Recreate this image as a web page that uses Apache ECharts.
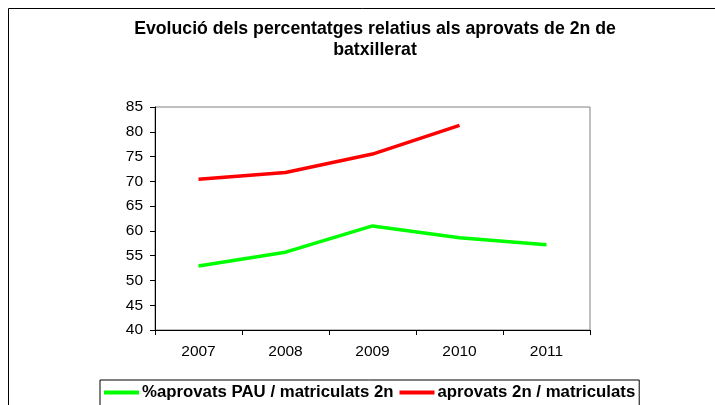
<!DOCTYPE html>
<html>
<head>
<meta charset="utf-8">
<script src="https://cdn.jsdelivr.net/npm/echarts@6/dist/echarts.min.js"></script>
<style>
html,body{margin:0;padding:0;background:#fff;}
#chart{width:715px;height:405px;}
</style>
</head>
<body>
<div id="chart"></div>
<script>
var titleText = "Evolució dels percentatges relatius als aprovats de 2n de\nbatxillerat";
var categories = ["2007", "2008", "2009", "2010", "2011"];
var seriesNames = ["%aprovats PAU / matriculats 2n", "aprovats 2n / matriculats"];
var pauValues = [52.9, 55.7, 61.0, 58.6, 57.2];
var aprovatsValues = [70.4, 71.8, 75.5, 81.3, null];
var yTicks = [40, 45, 50, 55, 60, 65, 70, 75, 80, 85];

var FONT = "'Liberation Sans', Arial, sans-serif";
var chart = echarts.init(document.getElementById('chart'), null, {renderer: 'canvas'});
chart.setOption({
  animation: false,
  backgroundColor: '#ffffff',
  graphic: [{
    type: 'rect', left: 8, top: 8, z: -1,
    shape: {width: 730, height: 420},
    style: {fill: '#ffffff', stroke: '#000000', lineWidth: 1}
  }],
  title: {
    text: titleText,
    left: 370, top: 14, textAlign: 'center',
    textStyle: {fontFamily: FONT, fontWeight: 'bold', fontSize: 17.7, color: '#000', lineHeight: 21}
  },
  grid: {
    left: 155, top: 107, width: 435, height: 223,
    show: true, borderColor: '#808080', borderWidth: 1, backgroundColor: '#ffffff'
  },
  legend: {
    left: 100, top: 380,
    data: seriesNames,
    itemWidth: 35, itemHeight: 4, itemGap: 6,
    icon: 'rect',
    padding: [4, 4, 10, 4],
    borderColor: '#000', borderWidth: 1, backgroundColor: '#fff',
    textStyle: {fontFamily: FONT, fontWeight: 'bold', fontSize: 16.8, color: '#000', padding: [0, 0, 0, -2]}
  },
  xAxis: {
    type: 'category', data: categories, boundaryGap: true,
    axisLine: {show: true, lineStyle: {color: '#000', width: 1}},
    axisTick: {show: true, interval: 0, length: 5, lineStyle: {color: '#000'}},
    axisLabel: {fontFamily: FONT, fontSize: 15.5, color: '#000', margin: 14},
    splitLine: {show: false}
  },
  yAxis: {
    type: 'value', min: yTicks[0], max: yTicks[yTicks.length - 1], interval: 5,
    axisLine: {show: true, lineStyle: {color: '#000', width: 1}},
    axisTick: {show: true, length: 5, lineStyle: {color: '#000'}},
    axisLabel: {fontFamily: FONT, fontSize: 15.5, color: '#000', margin: 12},
    splitLine: {show: false}
  },
  series: [
    {
      name: seriesNames[0], type: 'line', data: pauValues,
      symbol: 'none', color: '#00ff00',
      lineStyle: {color: '#00ff00', width: 3.5}
    },
    {
      name: seriesNames[1], type: 'line', data: aprovatsValues,
      symbol: 'none', color: '#ff0000',
      lineStyle: {color: '#ff0000', width: 3.5}
    }
  ]
});
</script>
</body>
</html>
